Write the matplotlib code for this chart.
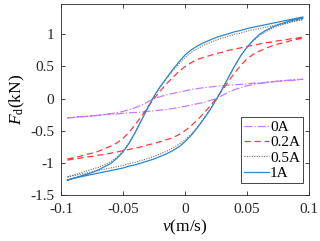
import numpy as np
import matplotlib
matplotlib.use('Agg')
import matplotlib.pyplot as plt

plt.rcParams['font.family'] = ['Liberation Serif', 'DejaVu Serif']
plt.rcParams['mathtext.fontset'] = 'custom'
plt.rcParams['mathtext.it'] = 'Liberation Serif:italic'
plt.rcParams['mathtext.rm'] = 'Liberation Serif'
plt.rcParams['axes.unicode_minus'] = False

# velocity grid (m/s), shared by every branch
v = [-0.095, -0.090, -0.085, -0.080, -0.075, -0.070, -0.065, -0.060, -0.055, -0.050,
     -0.045, -0.040, -0.035, -0.030, -0.025, -0.020, -0.015, -0.010, -0.005, 0.000,
     0.005, 0.010, 0.015, 0.020, 0.025, 0.030, 0.035, 0.040, 0.045, 0.050,
     0.055, 0.060, 0.065, 0.070, 0.075, 0.080, 0.085, 0.090, 0.095]

# damper force (kN): upper and lower branch of each loop
f0_up = [-0.30, -0.295, -0.29, -0.28, -0.27, -0.26, -0.25, -0.235, -0.22, -0.20,
         -0.17, -0.14, -0.10, -0.05, 0.00, 0.03, 0.06, 0.08, 0.10, 0.12,
         0.14, 0.155, 0.17, 0.18, 0.19, 0.20, 0.21, 0.215, 0.22, 0.23,
         0.24, 0.245, 0.25, 0.26, 0.27, 0.275, 0.28, 0.29, 0.30]
f0_lo = [-0.30, -0.29, -0.28, -0.275, -0.27, -0.26, -0.25, -0.245, -0.24, -0.23,
         -0.22, -0.215, -0.21, -0.20, -0.19, -0.18, -0.17, -0.155, -0.14, -0.12,
         -0.10, -0.08, -0.06, -0.03, 0.00, 0.05, 0.10, 0.14, 0.17, 0.20,
         0.22, 0.235, 0.25, 0.26, 0.27, 0.28, 0.29, 0.295, 0.30]

f02_up = [-0.94, -0.92, -0.90, -0.87, -0.85, -0.82, -0.78, -0.74, -0.69, -0.62,
          -0.52, -0.40, -0.27, -0.13, 0.00, 0.12, 0.23, 0.33, 0.42, 0.50,
          0.56, 0.61, 0.64, 0.67, 0.70, 0.72, 0.75, 0.77, 0.79, 0.81,
          0.83, 0.85, 0.87, 0.88, 0.90, 0.91, 0.93, 0.94, 0.96]
f02_lo = [-0.96, -0.94, -0.93, -0.91, -0.90, -0.88, -0.87, -0.85, -0.83, -0.81,
          -0.79, -0.77, -0.75, -0.72, -0.70, -0.67, -0.64, -0.61, -0.56, -0.50,
          -0.42, -0.33, -0.23, -0.12, 0.00, 0.13, 0.27, 0.40, 0.52, 0.62,
          0.69, 0.74, 0.78, 0.82, 0.85, 0.87, 0.90, 0.92, 0.94]

f05_up = [-1.22, -1.19, -1.16, -1.13, -1.10, -1.07, -1.03, -0.98, -0.91, -0.81,
          -0.68, -0.51, -0.33, -0.14, 0.03, 0.18, 0.31, 0.43, 0.54, 0.64,
          0.72, 0.78, 0.83, 0.87, 0.91, 0.94, 0.97, 1.00, 1.02, 1.05,
          1.07, 1.09, 1.11, 1.13, 1.15, 1.17, 1.19, 1.21, 1.23]
f05_lo = [-1.22, -1.20, -1.18, -1.16, -1.14, -1.12, -1.10, -1.08, -1.06, -1.04,
          -1.01, -0.99, -0.96, -0.93, -0.90, -0.86, -0.82, -0.77, -0.71, -0.64,
          -0.55, -0.44, -0.31, -0.17, -0.02, 0.15, 0.33, 0.51, 0.67, 0.80,
          0.90, 0.98, 1.04, 1.09, 1.13, 1.16, 1.19, 1.21, 1.23]

f1_up = [-1.27, -1.24, -1.21, -1.18, -1.15, -1.11, -1.06, -1.01, -0.93, -0.83,
         -0.69, -0.52, -0.33, -0.14, 0.04, 0.19, 0.32, 0.45, 0.57, 0.68,
         0.76, 0.82, 0.87, 0.91, 0.95, 0.98, 1.01, 1.04, 1.06, 1.09,
         1.11, 1.13, 1.15, 1.17, 1.19, 1.21, 1.23, 1.25, 1.27]
f1_lo = [-1.27, -1.24, -1.22, -1.20, -1.18, -1.16, -1.14, -1.12, -1.10, -1.08,
         -1.05, -1.03, -1.00, -0.97, -0.94, -0.90, -0.86, -0.81, -0.75, -0.67,
         -0.57, -0.45, -0.32, -0.18, -0.02, 0.15, 0.33, 0.51, 0.67, 0.80,
         0.91, 1.00, 1.06, 1.11, 1.15, 1.18, 1.21, 1.23, 1.25]

labels = ['0A', '0.2A', '0.5A', '1A']
xticks = [-0.1, -0.05, 0, 0.05, 0.1]
xtick_labels = ['-0.1', '-0.05', '0', '0.05', '0.1']
yticks = [-1.5, -1, -0.5, 0, 0.5, 1]
ytick_labels = ['-1.5', '-1', '-0.5', '0', '0.5', '1']


def loop(up, lo):
    # out along the upper branch, back along the lower one
    xs = list(v) + list(v[::-1])
    ys = list(up) + list(lo[::-1])
    return xs, ys


fig = plt.figure(figsize=(3.2, 2.41), dpi=100)
ax = fig.add_axes([0.191, 0.191, 0.775, 0.792])

styles = [
    (f0_up, f0_lo, dict(color='#c77dff', linestyle='-.', linewidth=0.9)),
    (f02_up, f02_lo, dict(color='#ff3b3b', linestyle=(0, (5, 3)), linewidth=0.9)),
    (f05_up, f05_lo, dict(color='#707070', linestyle=(0, (1, 1.2)), linewidth=0.8)),
    (f1_up, f1_lo, dict(color='#2e86cc', linestyle='-', linewidth=0.9)),
]
for (up, lo, st), lab in zip(styles, labels):
    xs, ys = loop(up, lo)
    ax.plot(xs, ys, label=lab, **st)

ax.set_xlim(-0.1, 0.1)
ax.set_ylim(-1.5, 1.47)
ax.set_xticks(xticks)
ax.set_xticklabels(xtick_labels)
ax.set_yticks(yticks)
ax.set_yticklabels(ytick_labels)
ax.tick_params(direction='in', top=True, right=True, length=3, width=0.6,
               labelsize=11, colors='#262626')
ax.tick_params(axis='x', pad=6)
ax.tick_params(axis='y', pad=5)
for s in ax.spines.values():
    s.set_linewidth(0.6)
    s.set_color('#262626')

ax.set_xlabel(r'$\mathit{v}$(m/s)', fontsize=12.5, labelpad=1)
ax.set_ylabel(r'$\mathit{F}_{\rm d}$(kN)', fontsize=12.5, labelpad=2)

leg = ax.legend(loc='lower right', bbox_to_anchor=(0.976, 0.063), borderaxespad=0,
                fontsize=11, fancybox=False, framealpha=1, edgecolor='#262626',
                handlelength=1.6, handletextpad=0.1, labelspacing=0.1,
                borderpad=0.2)
leg.get_frame().set_linewidth(0.6)

fig.savefig('out.png', dpi=100)
